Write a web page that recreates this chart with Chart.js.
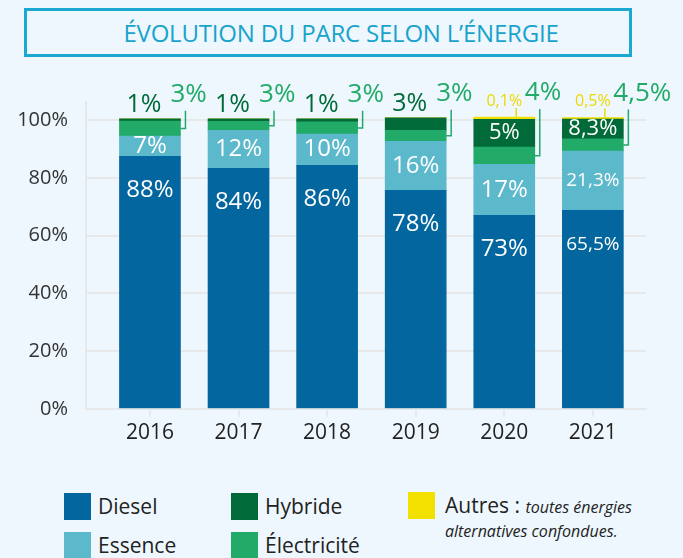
<!DOCTYPE html>
<html lang="fr">
<head>
<meta charset="utf-8">
<title>Évolution du parc selon l’énergie</title>
<script src="https://cdn.jsdelivr.net/npm/chart.js@4.4.0/dist/chart.umd.min.js"></script>
<style>
  html, body { margin: 0; padding: 0; background: #eef7fd; }
  body { width: 683px; height: 558px; position: relative; overflow: hidden; font-family: 'Open Sans', sans-serif; }
  #title {
    position: absolute; left: 24px; top: 8px; width: 608px; height: 49px;
    border: 3px solid #1aa7d0; box-sizing: border-box;
    display: flex; align-items: center; justify-content: center; padding-left: 26px;
    color: #18a3cc; font-size: 24px; letter-spacing: -0.2px;
  }
  #chartBox { position: absolute; left: 0; top: 60px; width: 683px; height: 390px; }
  .lg { position: absolute; display: flex; align-items: center; font-size: 21px; color: #222; }
  .lg span.sw { width: 27px; height: 27px; margin-right: 7px; flex: none; }
  #autresNote { position: absolute; left: 445px; top: 494px; color: #222; font-size: 21px; line-height: 22px; }
  #autresNote i { font-size: 16px; }
</style>
</head>
<body>
<div id="title">ÉVOLUTION DU PARC SELON L’ÉNERGIE</div>
<div id="chartBox"><canvas id="parcChart"></canvas></div>
<div id="legend"></div>
<div id="autresNote">Autres : <i>toutes énergies</i><br><i>alternatives confondues.</i></div>

<script>
// Data: share of the fleet by energy (bar heights as drawn), plus printed labels
const years = ['2016', '2017', '2018', '2019', '2020', '2021'];
const diesel      = [87.5, 83.3, 84.4, 75.7, 67.0, 68.8];
const essence     = [7.0, 13.2, 10.8, 17.0, 17.7, 20.5];
const electricite = [5.2, 3.1, 4.2, 3.8, 6.0, 4.2];
const hybride     = [0.8, 0.9, 1.1, 4.3, 9.6, 6.9];
const autres      = [0, 0, 0, 0, 0.8, 0.5];

const dieselLabels      = ['88%', '84%', '86%', '78%', '73%', '65,5%'];
const essenceLabels     = ['7%', '12%', '10%', '16%', '17%', '21,3%'];
const electriciteLabels = ['3%', '3%', '3%', '3%', '4%', '4,5%'];
const hybrideLabels     = ['1%', '1%', '1%', '3%', '5%', '8,3%'];
const autresLabels      = [null, null, null, null, '0,1%', '0,5%'];

const yTicks = [0, 20, 40, 60, 80, 100];

// Colours
const COL = {
    diesel: '#03669f',
    essence: '#5cb8cb',
    electricite: '#22aa68',
    hybride: '#006a38',
    autres: '#f2e100',
    grid: '#e6e8ea',
    text: '#222222'
};

const FONT = '"Open Sans", sans-serif';

function setFont(ctx, size, weight) {
    ctx.font = `${weight || 400} ${size}px ${FONT}`;
}

// fit text inside the bar width
function fitFont(ctx, text, size, maxW) {
    setFont(ctx, size);
    const w = ctx.measureText(text).width;
    if (w > maxW) setFont(ctx, Math.floor(size * maxW / w));
}

// Custom labels plugin
const barLabels = {
    id: 'barLabels',
    afterDatasetsDraw(chart) {
        const ctx = chart.ctx;
        const metas = chart.data.datasets.map((d, i) => chart.getDatasetMeta(i));
        ctx.save();
        ctx.textBaseline = 'middle';

        years.forEach((yr, i) => {
            const bars = metas.map(m => m.data[i]);
            const ref = bars[0];
            const right = ref.x + ref.width / 2;
            const stackTop = Math.min(...bars.map(b => Math.min(b.y, b.base)));

            // Diesel: white, near the top of the segment
            const d = bars[0];
            ctx.fillStyle = '#fff';
            ctx.textAlign = 'center';
            fitFont(ctx, dieselLabels[i], 24, ref.width - 6);
            ctx.fillText(dieselLabels[i], d.x, d.y + 34);

            // Essence: white, centred
            const e = bars[1];
            fitFont(ctx, essenceLabels[i], 24, ref.width - 6);
            ctx.fillText(essenceLabels[i], e.x, (e.y + e.base) / 2);

            // Hybride: inside if tall enough, otherwise above the bar
            const h = bars[3];
            const hh = h.base - h.y;
            if (hh >= 16) {
                fitFont(ctx, hybrideLabels[i], 22, ref.width - 6);
                ctx.fillStyle = '#fff';
                ctx.fillText(hybrideLabels[i], h.x, (h.y + h.base) / 2);
            } else {
                setFont(ctx, 25, 500);
                ctx.fillStyle = COL.hybride;
                ctx.fillText(hybrideLabels[i], h.x - 6, stackTop - 14);
            }

            // Electricite: outside right, with a leader line
            const el = bars[2];
            const ly = stackTop - 24;
            setFont(ctx, 26);
            ctx.fillStyle = COL.electricite;
            ctx.textAlign = 'left';
            ctx.fillText(electriciteLabels[i], right - 10, ly);
            const lx = right + 5;
            const my = (el.y + el.base) / 2;
            ctx.strokeStyle = COL.electricite;
            ctx.lineWidth = 1.5;
            ctx.beginPath();
            ctx.moveTo(lx, ly + 16);
            ctx.lineTo(lx, my);
            ctx.lineTo(right, my);
            ctx.stroke();

            // Autres: small yellow label above the bar
            if (autresLabels[i]) {
                const a = bars[4];
                const ay = stackTop - 16;
                setFont(ctx, 16);
                ctx.fillStyle = '#ecd900';
                ctx.textAlign = 'center';
                ctx.fillText(autresLabels[i], a.x, ay);
                ctx.strokeStyle = '#ecd900';
                ctx.beginPath();
                ctx.moveTo(a.x + 12, ay + 7);
                ctx.lineTo(a.x + 12, stackTop);
                ctx.stroke();
            }
        });
        ctx.restore();
    }
};

function series(label, data, color) {
    return {
        label: label,
        data: data,
        backgroundColor: color,
        borderWidth: 0,
        barThickness: 61
    };
}

const ctx = document.getElementById('parcChart');
const parcChart = new Chart(ctx, {
    type: 'bar',
    data: {
        labels: years,
        datasets: [
            series('Diesel', diesel, COL.diesel),
            series('Essence', essence, COL.essence),
            series('Électricité', electricite, COL.electricite),
            series('Hybride', hybride, COL.hybride),
            series('Autres', autres, COL.autres)
        ]
    },
    options: {
        responsive: true,
        maintainAspectRatio: false,
        animation: false,
        layout: { padding: { top: 42, right: 37, left: 0, bottom: 0 } },
        plugins: {
            legend: { display: false },
            tooltip: { enabled: false }
        },
        scales: {
            x: {
                type: 'linear',
                stacked: true,
                offset: false,
                min: 2015.278,
                max: 2021.6,
                ticks: {
                    stepSize: 1,
                    includeBounds: false,
                    color: COL.text,
                    padding: 4,
                    font: { family: FONT, size: 21 },
                    callback: v => String(v)
                },
                grid: {
                    offset: false,
                    drawOnChartArea: false,
                    drawTicks: true,
                    tickLength: 8,
                    color: COL.grid,
                    lineWidth: 2
                },
                border: { display: true, color: COL.grid, width: 2 }
            },
            y: {
                stacked: true,
                min: 0,
                max: 106.3,
                afterBuildTicks: scale => {
                    scale.ticks = yTicks.map(v => ({ value: v }));
                },
                afterFit: scale => { scale.width = 86; },
                ticks: {
                    color: '#333',
                    padding: 18,
                    font: { family: FONT, size: 20 },
                    callback: v => v + '%'
                },
                grid: {
                    drawTicks: false,
                    color: COL.grid,
                    lineWidth: 2
                },
                border: { display: true, color: COL.grid, width: 2 }
            }
        }
    },
    plugins: [barLabels]
});

// HTML legend built from the datasets
const legendPos = [
    { name: 'Diesel', left: 64, top: 492 },
    { name: 'Essence', left: 64, top: 531 },
    { name: 'Hybride', left: 231, top: 492 },
    { name: 'Électricité', left: 231, top: 531 },
    { name: 'Autres', left: 408, top: 492 }
];
const legendEl = document.getElementById('legend');
legendPos.forEach(p => {
    const ds = parcChart.data.datasets.find(d => d.label === p.name);
    const item = document.createElement('div');
    item.className = 'lg';
    item.style.left = p.left + 'px';
    item.style.top = p.top + 'px';
    item.innerHTML = `<span class="sw" style="background:${ds.backgroundColor}"></span>` +
        (p.name === 'Autres' ? '' : `<span>${p.name}</span>`);
    legendEl.appendChild(item);
});
</script>
</body>
</html>
